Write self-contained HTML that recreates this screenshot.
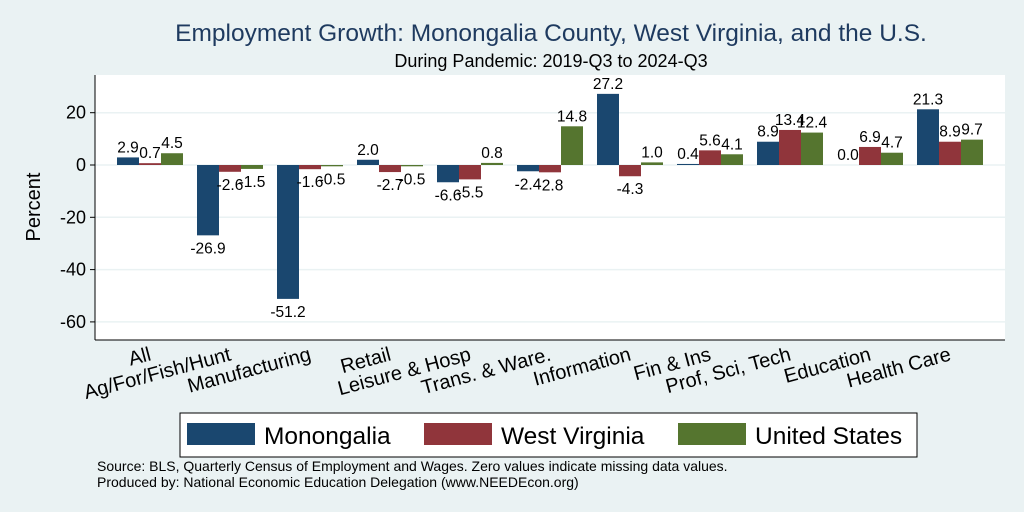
<!DOCTYPE html>
<html><head><meta charset="utf-8"><style>
body{margin:0;background:#eaf2f3;font-family:"Liberation Sans",sans-serif}
svg{display:block}
</style></head><body>
<svg id="c" width="1024" height="512" xmlns="http://www.w3.org/2000/svg">
<rect x="0" y="0" width="1024" height="512" fill="#eaf2f3"/>
<text x="551" y="41" font-size="24.5" fill="#1e3a5f" text-anchor="middle">Employment Growth: Monongalia County, West Virginia, and the U.S.</text>
<text x="551" y="67" font-size="18" fill="#000" text-anchor="middle">During Pandemic: 2019-Q3 to 2024-Q3</text>
<rect x="95" y="75" width="910" height="265" fill="#fff"/>
<g id="grid"></g><g id="bars"></g><g id="labels"></g>
<text transform="translate(40,207) rotate(-90)" font-size="20" text-anchor="middle">Percent</text>
<rect x="180" y="413" width="737" height="44" fill="#fff" stroke="#000" stroke-width="1"/>
<g><rect x="187" y="423" width="68" height="22" fill="#1a476f"/><text x="264" y="444" font-size="24.5">Monongalia</text></g>
<g><rect x="424" y="423" width="68" height="22" fill="#90353b"/><text x="501" y="444" font-size="24.5">West Virginia</text></g>
<g><rect x="678" y="423" width="68" height="22" fill="#55752f"/><text x="755" y="444" font-size="24.5">United States</text></g>
<text x="97" y="471" font-size="14">Source: BLS, Quarterly Census of Employment and Wages. Zero values indicate missing data values.</text>
<text x="97" y="487" font-size="14">Produced by: National Economic Education Delegation (www.NEEDEcon.org)</text>
</svg>
<script>
const categories=["All","Ag/For/Fish/Hunt","Manufacturing","Retail","Leisure & Hosp","Trans. & Ware.","Information","Fin & Ins","Prof, Sci, Tech","Education","Health Care"];
const monongalia=[2.9,-26.9,-51.2,2.0,-6.6,-2.4,27.2,0.4,8.9,0.0,21.3];
const westVirginia=[0.7,-2.6,-1.6,-2.7,-5.5,-2.8,-4.3,5.6,13.4,6.9,8.9];
const unitedStates=[4.5,-1.5,-0.5,-0.5,0.8,14.8,1.0,4.1,12.4,4.7,9.7];
const yTicks=[20,0,-20,-40,-60];
const NS="http://www.w3.org/2000/svg";
const y=v=>165-v*2.615;
const x=i=>150+i*80;
const colors=["#1a476f","#90353b","#55752f"];
const series=[monongalia,westVirginia,unitedStates];
const names=["monongalia","west-virginia","united-states"];
const g=document.getElementById('grid'),b=document.getElementById('bars'),l=document.getElementById('labels');
function mk(t,a,p){const e=document.createElementNS(NS,t);for(const k in a)e.setAttribute(k,a[k]);p.appendChild(e);return e;}
yTicks.forEach(t=>{
 const ln=mk('line',{x1:95,x2:1005,y1:y(t),y2:y(t),stroke:'#eaf2f3','stroke-width':1.5},g);
 
 
 const tk=mk('line',{x1:90,x2:95,y1:y(t),y2:y(t),stroke:'#000'},g);
 
 
 const tx=mk('text',{x:86,y:y(t)+6,'font-size':18,'text-anchor':'end'},g);tx.textContent=t;
 
 
});
const ax=mk('line',{x1:95,x2:95,y1:75,y2:340,stroke:'#000'},g);


const bx=mk('line',{x1:95,x2:1005,y1:340,y2:340,stroke:'#000'},g);


const bw=22;
categories.forEach((c,i)=>{
 series.forEach((s,j)=>{
  const v=s[i],cx=x(i)+(j-1)*bw;
  const r=mk('rect',{x:cx-bw/2,y:Math.min(y(v),y(0)),width:bw,height:Math.abs(y(v)-y(0)),fill:colors[j]},b);
  
  
  const t=mk('text',{x:cx,y:v>=0?y(v)-5:y(v)+18,'font-size':15.5,'text-anchor':'middle'},l);
  t.textContent=v.toFixed(1);
  
  
 });
 const ly=360;
 const ax2=x(i)+2;
 const t=mk('text',{x:ax2,y:ly,'font-size':20,'text-anchor':'end',transform:`rotate(-15 ${ax2} ${ly})`},l);
 t.textContent=c;
 
 
});
</script>
</body></html>
